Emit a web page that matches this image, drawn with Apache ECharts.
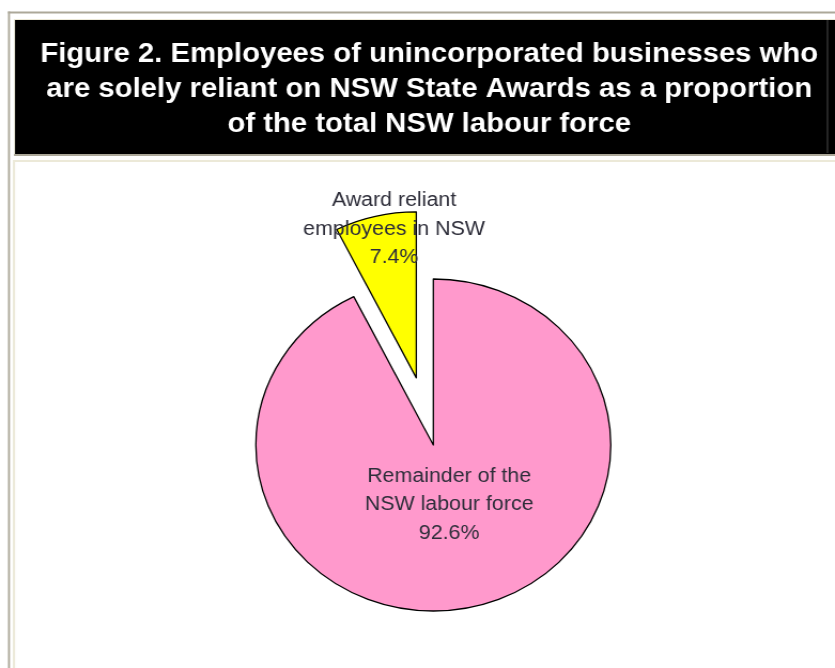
<!DOCTYPE html>
<html>
<head>
<meta charset="utf-8">
<script src="https://cdn.jsdelivr.net/npm/echarts@6/dist/echarts.min.js"></script>
<style>
  html, body { margin: 0; padding: 0; background: #ffffff; overflow: hidden; }
  #wrap { width: 835px; height: 668px; overflow: hidden; position: relative; }
  #chart { width: 781px; height: 668px; transform: scaleX(1.0691); transform-origin: 0 0; }
</style>
</head>
<body>
<div id="wrap"><div id="chart"></div></div>
<script>
// ---- data ----
const titleLines = [
  'Figure 2. Employees of unincorporated businesses who',
  'are solely reliant on NSW State Awards as a proportion',
  'of the total NSW labour force'
];
const categories = ['Remainder of the\nNSW labour force', 'Award reliant\nemployees in NSW'];
const shares = [92.6, 7.4];
const explodedFlags = [false, true];

// ---- styles ----
const sliceColors = ['#ff99cc', '#ffff00'];
const labelShift = [[-5, -24], [-1, -65]];   // nudges relative to the library's label anchor
const S = 1.0691;              // horizontal stretch of the whole figure
const X = v => v / S;
const frameGray = '#aca899';
const beige = '#ece9d8';

const chart = echarts.init(document.getElementById('chart'), null, { renderer: 'canvas', width: 781, height: 668 });

const option = {
  backgroundColor: '#ffffff',
  animation: false,
  title: {
    text: titleLines.join('\n'),
    left: X(429.2),
    top: 36.5,
    padding: 0,
    textAlign: 'center',
    textStyle: {
      color: '#ffffff',
      fontFamily: 'Liberation Sans, Arial, sans-serif',
      fontWeight: 'bold',
      fontSize: 27.4,
      lineHeight: 35
    },
    z: 10
  },
  graphic: [
    { type: 'rect', silent: true, z: 0, shape: { x: X(8), y: 11.5, width: 781, height: 2 }, style: { fill: frameGray } },
    { type: 'rect', silent: true, z: 0, shape: { x: X(8), y: 11.5, width: X(2), height: 668 }, style: { fill: frameGray } },
    { type: 'rect', silent: true, z: 0, shape: { x: X(14), y: 19, width: 781, height: 135 }, style: { fill: beige } },
    { type: 'rect', silent: true, z: 1, shape: { x: X(15), y: 20, width: 781, height: 134 }, style: { fill: '#000000' } },
    { type: 'rect', silent: true, z: 1, shape: { x: X(827), y: 20, width: X(1), height: 133 }, style: { fill: '#505050' } },
    { type: 'rect', silent: true, z: 1, shape: { x: X(14), y: 154, width: 781, height: 2 }, style: { fill: frameGray } },
    { type: 'rect', silent: true, z: 0, shape: { x: X(14), y: 161, width: 800, height: 600 }, style: { fill: '#ffffff', stroke: beige, lineWidth: 2 } }
  ],
  series: [{
    type: 'pie',
    center: [X(433.3), 445],
    radius: 166,
    startAngle: 90,
    clockwise: true,
    selectedMode: 'multiple',
    selectedOffset: 69,
    avoidLabelOverlap: false,
    minShowLabelAngle: 0,
    emphasis: { disabled: true },
    itemStyle: { borderColor: '#000000', borderWidth: 1.3 },
    label: {
      show: true,
      position: 'inside',
      formatter: '{b}\n{c}%',
      fontFamily: 'Liberation Sans, Arial, sans-serif',
      fontSize: 20,
      lineHeight: 28.5,
      color: '#2e2e3a',
      align: 'center',
      overflow: 'none'
    },
    labelLine: { show: false },
    labelLayout: function (params) {
      const d = labelShift[params.dataIndex];
      return { dx: d[0], dy: d[1], hideOverlap: false };
    },
    data: categories.map((name, i) => ({
      name: name,
      value: shares[i],
      selected: explodedFlags[i],
      itemStyle: { color: sliceColors[i] }
    }))
  }]
};

chart.setOption(option);
</script>
</body>
</html>
